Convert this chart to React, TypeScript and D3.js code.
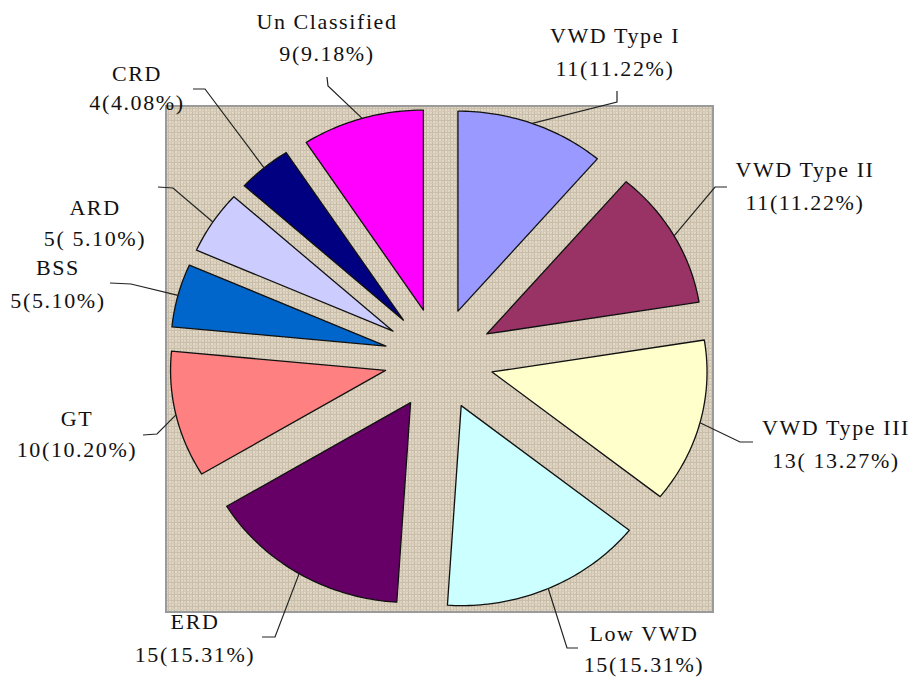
import React from 'react';
import * as d3 from 'd3';

const categories = ['VWD Type I', 'VWD Type II', 'VWD Type III', 'Low VWD', 'ERD', 'GT', 'BSS', 'ARD', 'CRD', 'Un Classified'];
const counts = [11, 11, 13, 15, 15, 10, 5, 5, 4, 9];
const valueLabels = ['11(11.22%)', '11(11.22%)', '13( 13.27%)', '15(15.31%)', '15(15.31%)', '10(10.20%)', '5(5.10%)', '5( 5.10%)', '4(4.08%)', '9(9.18%)'];
const colors = ['#9999FF', '#993366', '#FFFFCC', '#CCFFFF', '#660066', '#FF8080', '#0066CC', '#CCCCFF', '#000080', '#FF00FF'];

// label layout (positions only)
const labelLayout = [
  { x: 615, y1: 43, y2: 76, elbow: [617, 102], end: [617, 91] },
  { x: 805, y1: 177, y2: 210, elbow: [715, 187], end: [727, 187] },
  { x: 836, y1: 435, y2: 468, elbow: [740, 442], end: [753, 442] },
  { x: 644, y1: 641, y2: 672, elbow: [567, 648], end: [578, 648] },
  { x: 195, y1: 629, y2: 662, elbow: [275, 637], end: [262, 637] },
  { x: 77, y1: 426, y2: 457, elbow: [157, 434], end: [143, 435] },
  { x: 58, y1: 275, y2: 308, elbow: [131, 284], end: [110, 283] },
  { x: 95, y1: 215, y2: 246, elbow: [173, 188], end: [158, 187] },
  { x: 137, y1: 81, y2: 110, elbow: [205, 89], end: [193, 89] },
  { x: 327, y1: 29, y2: 61, elbow: [328, 86], end: [327, 77] },
];

const W = 917;
const H = 681;
const plot = { x: 166, y: 106, w: 547, h: 506 };
const cx = 439;
const cy = 359;
const rx = 215;
const ry = 200;
const explode = 0.255;

export default function App() {
  const arcs = d3.pie<number>().sort(null).value((d) => d)(counts);
  const pt = (ox: number, oy: number, a: number, sx: number, sy: number): [number, number] => [
    ox + sx * Math.sin(a),
    oy - sy * Math.cos(a),
  ];
  const line = d3.line<[number, number]>();

  const slices = arcs.map((a, i) => {
    const mid = (a.startAngle + a.endAngle) / 2;
    const [ox, oy] = pt(cx, cy, mid, explode * rx, explode * ry);
    const n = Math.max(8, Math.ceil(((a.endAngle - a.startAngle) * 180) / Math.PI));
    const pts: [number, number][] = [[ox, oy]];
    d3.range(n + 1).forEach((k) => {
      const ang = a.startAngle + ((a.endAngle - a.startAngle) * k) / n;
      pts.push(pt(ox, oy, ang, rx, ry));
    });
    const anchor = pt(ox, oy, mid, rx, ry);
    return { d: line(pts) + 'Z', anchor, i };
  });

  return (
    <svg
      width={W}
      height={H}
      style={{ position: 'fixed', left: 0, top: 0, background: '#fff' }}
      fontFamily="'Liberation Serif', 'Times New Roman', serif"
    >
      <defs>
        <pattern id="canvas" width="6" height="6" patternUnits="userSpaceOnUse">
          <rect width="6" height="6" fill="#dcd2bf" />
          <rect x="0" y="0" width="1" height="6" fill="#c6baa5" />
          <rect x="3" y="0" width="1" height="6" fill="#d0c5b1" />
          <rect x="0" y="0" width="6" height="1" fill="#c9bea9" />
          <rect x="0" y="3" width="6" height="1" fill="#d3c9b6" />
          <rect x="1" y="1" width="2" height="2" fill="#e4dccb" />
          <rect x="4" y="4" width="1" height="1" fill="#e6decf" />
        </pattern>
      </defs>
      <rect x={plot.x} y={plot.y} width={plot.w} height={plot.h} fill="url(#canvas)" stroke="#9a9a9a" strokeWidth={2} />
      {slices.map((s) => (
        <path key={categories[s.i]} d={s.d} fill={colors[s.i]} stroke="#111" strokeWidth={1.3} strokeLinejoin="round" />
      ))}
      {slices.map((s) => {
        const L = labelLayout[s.i];
        const pts: [number, number][] = [s.anchor, L.elbow as [number, number], L.end as [number, number]];
        return <path key={'l' + s.i} d={line(pts) || ''} fill="none" stroke="#222" strokeWidth={1.2} />;
      })}
      {slices.map((s) => {
        const L = labelLayout[s.i];
        return (
          <g key={'t' + s.i} fontSize={22} fill="#111" textAnchor="middle" letterSpacing={1.6}>
            <text x={L.x} y={L.y1}>{categories[s.i]}</text>
            <text x={L.x} y={L.y2}>{valueLabels[s.i]}</text>
          </g>
        );
      })}
    </svg>
  );
}
